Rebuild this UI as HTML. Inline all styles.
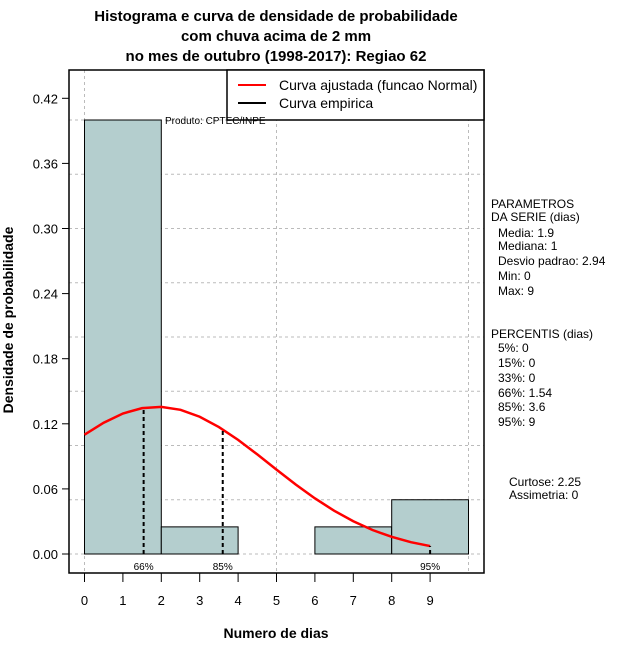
<!DOCTYPE html>
<html><head><meta charset="utf-8"><style>
body{margin:0;background:#fff}
svg text{font-family:"Liberation Sans",sans-serif}
</style></head><body>
<svg width="640" height="660" xmlns="http://www.w3.org/2000/svg">
<g id="titles" font-weight="bold" font-size="15" text-anchor="middle">
<text x="276" y="21">Histograma e curva de densidade de probabilidade</text>
<text x="276" y="41">com chuva acima de 2 mm</text>
<text x="276" y="61">no mes de outubro (1998-2017): Regiao 62</text>
<text x="276" y="638" font-size="14">Numero de dias</text>
<text transform="translate(13,320) rotate(-90)" font-size="14">Densidade de probabilidade</text>
</g>
<g id="grid"></g>
<g id="bars"></g>
<g id="curve"></g>
<g id="axes"></g>
<rect x="69" y="70" width="415" height="503" fill="none" stroke="#000" stroke-width="1.5"/>
<g>
<rect x="227" y="70" width="257" height="50" fill="#fff" stroke="#000" stroke-width="1.5"/>
<line x1="238" y1="85" x2="266" y2="85" stroke="#f00" stroke-width="2"/>
<text x="279" y="90" font-size="14">Curva ajustada (funcao Normal)</text>
<line x1="238" y1="103" x2="266" y2="103" stroke="#000" stroke-width="2"/>
<text x="279" y="108" font-size="14">Curva empirica</text>
</g>
<text x="165" y="124" font-size="10">Produto: CPTEC/INPE</text>
<g font-size="12">
<text x="491" y="208">PARAMETROS</text>
<text x="491" y="221">DA SERIE (dias)</text>
<text x="498" y="237">Media: 1.9</text>
<text x="498" y="250">Mediana: 1</text>
<text x="498" y="265">Desvio padrao: 2.94</text>
<text x="498" y="280">Min: 0</text>
<text x="498" y="295">Max: 9</text>
<text x="491" y="338">PERCENTIS (dias)</text>
<text x="498" y="352">5%: 0</text>
<text x="498" y="367">15%: 0</text>
<text x="498" y="382">33%: 0</text>
<text x="498" y="397">66%: 1.54</text>
<text x="498" y="411">85%: 3.6</text>
<text x="498" y="426">95%: 9</text>
<text x="509" y="486">Curtose: 2.25</text>
<text x="509" y="499">Assimetria: 0</text>
</g>
</svg>
<script>
const binEdges=[0,2,4,6,8,10];
const binDensity=[0.40,0.025,0,0.025,0.05];
const curveX=[0,0.5,1,1.5,2,2.5,3,3.5,4,4.5,5,5.5,6,6.5,7,7.5,8,8.5,9];
const curveY=[0.110,0.121,0.1295,0.1344,0.1356,0.1329,0.1265,0.117,0.1052,0.0918,0.0778,0.0641,0.0513,0.0399,0.0302,0.0221,0.0158,0.0109,0.0073];
const pctValues=[1.54,3.6,9];
const pctLabels=["66%","85%","95%"];
const yTicks=[0,0.06,0.12,0.18,0.24,0.30,0.36,0.42];
const yTickLabels=["0.00","0.06","0.12","0.18","0.24","0.30","0.36","0.42"];
const xTicks=[0,1,2,3,4,5,6,7,8,9];
const NS="http://www.w3.org/2000/svg";
const sx=v=>84.5+v*38.4;
const sy=v=>554-v*1085;
function mk(tag,parent,attrs){const e=document.createElementNS(NS,tag);for(const k in attrs)e.setAttribute(k,attrs[k]);document.getElementById(parent).appendChild(e);return e;}
for(let g=0;g<=0.40001;g+=0.05){const l=mk('line','grid',{x1:69,x2:484,y1:sy(g),y2:sy(g),stroke:'#bbb','stroke-dasharray':'3,3'});

}
[0,5,10].forEach(g=>{const l=mk('line','grid',{x1:sx(g),x2:sx(g),y1:70,y2:573,stroke:'#bbb','stroke-dasharray':'3,3'});

});
binDensity.forEach((d,i)=>{const x0=sx(binEdges[i]),x1=sx(binEdges[i+1]);const r=mk('rect','bars',{x:x0,y:sy(d),width:x1-x0,height:sy(0)-sy(d),fill:'#b4cece',stroke:'#000','stroke-width':1});

});
const pts=curveX.map((x,i)=>sx(x)+','+sy(curveY[i])).join(' ');
const pl=mk('polyline','curve',{points:pts,fill:'none',stroke:'#f00','stroke-width':2.5});


function interp(x){for(let i=0;i<curveX.length-1;i++){if(x>=curveX[i]&&x<=curveX[i+1]){const t=(x-curveX[i])/(curveX[i+1]-curveX[i]);return curveY[i]+t*(curveY[i+1]-curveY[i]);}}return curveY[curveY.length-1];}
pctValues.forEach((p,i)=>{const l=mk('line','curve',{x1:sx(p),x2:sx(p),y1:sy(0),y2:sy(interp(p)),stroke:'#000','stroke-width':2,'stroke-dasharray':'4,3'});


const t=mk('text','curve',{x:sx(p),y:570,'font-size':10,'text-anchor':'middle'});t.textContent=pctLabels[i];

});
yTicks.forEach((v,i)=>{const l=mk('line','axes',{x1:62,x2:69,y1:sy(v),y2:sy(v),stroke:'#000'});


const t=mk('text','axes',{x:58,y:sy(v)+5,'font-size':13,'text-anchor':'end'});t.textContent=yTickLabels[i];

});
xTicks.forEach(v=>{const l=mk('line','axes',{x1:sx(v),x2:sx(v),y1:573,y2:582,stroke:'#000'});


const t=mk('text','axes',{x:sx(v),y:605,'font-size':13,'text-anchor':'middle'});t.textContent=v;

});
</script>
</body></html>
